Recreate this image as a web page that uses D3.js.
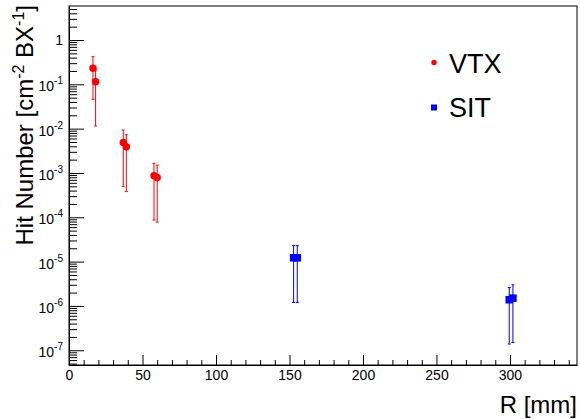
<!DOCTYPE html>
<html>
<head>
<meta charset="utf-8">
<script src="https://cdn.jsdelivr.net/npm/d3@7"></script>
<style>
  body { margin: 0; background: #fff; }
  svg text { font-family: "Liberation Sans", Arial, Helvetica, sans-serif; }
</style>
</head>
<body>
<div id="chart"></div>
<script>
// hit number vs radius, VTX and SIT layers
const vtxR    = [16.3, 18.1, 36.9, 39.0, 57.8, 60.0];
const vtxVal  = [0.23, 0.115, 0.0049, 0.0039, 8.7e-4, 7.9e-4];
const vtxHigh = [0.42, 0.21, 0.0093, 0.0073, 1.65e-3, 1.5e-3];
const vtxLow  = [0.046, 0.0115, 4.9e-4, 3.8e-4, 8.7e-5, 7.8e-5];

const sitR    = [152.8, 155.3, 299.5, 302.0];
const sitVal  = [1.22e-5, 1.22e-5, 1.38e-6, 1.5e-6];
const sitHigh = [2.3e-5, 2.3e-5, 2.6e-6, 3.0e-6];
const sitLow  = [1.2e-6, 1.2e-6, 1.38e-7, 1.5e-7];

const xMajor = [0, 50, 100, 150, 200, 250, 300];
const yMajorExp = [-7, -6, -5, -4, -3, -2, -1, 0];
const legendNames = ["VTX", "SIT"];

const WIDTH = 580, HEIGHT = 419;
const MARGIN = { LEFT: 69, RIGHT: 3, TOP: 6, BOTTOM: 54 };

const svg = d3.select("#chart").append("svg")
  .attr("width", WIDTH)
  .attr("height", HEIGHT);

const x = d3.scaleLinear()
  .domain([0, 345.6])
  .range([MARGIN.LEFT, WIDTH - MARGIN.RIGHT]);
const y = d3.scaleLog()
  .domain([4.65e-8, 5.85])
  .range([HEIGHT - MARGIN.BOTTOM, MARGIN.TOP]);

// frame
svg.append("rect")
  .attr("x", x.range()[0]).attr("y", y.range()[1])
  .attr("width", x.range()[1] - x.range()[0])
  .attr("height", y.range()[0] - y.range()[1])
  .attr("fill", "none").attr("stroke", "#000").attr("stroke-width", 1);

// x axis: minor then major ticks, pointing inwards
const xMinor = d3.range(0, 345, 10).filter(d => d % 50 !== 0);
svg.append("g")
  .attr("transform", `translate(0, ${y.range()[0]})`)
  .call(d3.axisBottom(x).tickValues(xMinor).tickSize(-5).tickFormat(""))
  .call(g => g.select(".domain").remove());
const xAxis = svg.append("g")
  .attr("transform", `translate(0, ${y.range()[0]})`)
  .call(d3.axisBottom(x).tickValues(xMajor).tickSize(-10).tickPadding(5).tickSizeOuter(0));
xAxis.selectAll("text").attr("font-size", 14).attr("fill", "#000")
  .style("font-family", '"Liberation Sans", Arial, sans-serif');

// y axis: log minor ticks 2..9 per decade
const yMinor = [];
for (let e = -8; e <= 0; e++) {
  for (let m = 2; m <= 9; m++) {
    const v = m * Math.pow(10, e);
    if (v >= y.domain()[0] && v <= y.domain()[1]) yMinor.push(v);
  }
}
const yMajor = yMajorExp.map(e => Math.pow(10, e));
svg.append("g")
  .attr("transform", `translate(${x.range()[0]}, 0)`)
  .call(d3.axisLeft(y).tickValues(yMinor).tickSize(-8).tickFormat(""))
  .call(g => g.select(".domain").remove());
svg.append("g")
  .attr("transform", `translate(${x.range()[0]}, 0)`)
  .call(d3.axisLeft(y).tickValues(yMajor).tickSize(-15).tickSizeOuter(0).tickFormat(""));

// y tick labels as 10^k
const yLab = svg.append("g").attr("font-size", 14).attr("text-anchor", "end");
yMajorExp.forEach(e => {
  const t = yLab.append("text")
    .attr("x", 63)
    .attr("y", y(Math.pow(10, e)) + (e === 0 ? 5 : 7));
  if (e === 0) {
    t.text("1");
  } else {
    t.append("tspan").text("10");
    t.append("tspan").attr("font-size", 10).attr("dy", -7).text(String(e).replace("\u2212", "-"));
  }
});

// error bars
function errorBars(rs, lo, hi, color) {
  const g = svg.append("g").attr("stroke", color).attr("stroke-width", 1).attr("fill", "none");
  rs.forEach((r, i) => {
    const cx = x(r);
    g.append("line").attr("x1", cx).attr("x2", cx).attr("y1", y(lo[i])).attr("y2", y(hi[i]));
    g.append("line").attr("x1", cx - 1.5).attr("x2", cx + 1.5).attr("y1", y(lo[i])).attr("y2", y(lo[i]));
    g.append("line").attr("x1", cx - 1.5).attr("x2", cx + 1.5).attr("y1", y(hi[i])).attr("y2", y(hi[i]));
  });
}
errorBars(vtxR, vtxLow, vtxHigh, "#ff0000");
errorBars(sitR, sitLow, sitHigh, "#0000ff");

// markers
svg.append("g").selectAll("circle")
  .data(vtxR.map((r, i) => ({ r, v: vtxVal[i] })))
  .enter().append("circle")
  .attr("cx", d => x(d.r))
  .attr("cy", d => y(d.v))
  .attr("r", 3.7)
  .attr("fill", "#ff0000");

const sq = 7.5;
svg.append("g").selectAll("rect")
  .data(sitR.map((r, i) => ({ r, v: sitVal[i] })))
  .enter().append("rect")
  .attr("x", d => x(d.r) - sq / 2)
  .attr("y", d => y(d.v) - sq / 2)
  .attr("width", sq).attr("height", sq)
  .attr("fill", "#0000ff");

// legend
const leg = svg.append("g");
leg.append("circle").attr("cx", 434).attr("cy", 62.5).attr("r", 2.7).attr("fill", "#ff0000");
leg.append("rect").attr("x", 431).attr("y", 104.5).attr("width", 6).attr("height", 6).attr("fill", "#0000ff");
leg.selectAll("text").data(legendNames).enter().append("text")
  .attr("x", 449)
  .attr("y", (d, i) => 72.7 + i * 44.6)
  .attr("font-size", 27)
  .text(d => d);

// axis titles
svg.append("text")
  .attr("x", WIDTH - 3)
  .attr("y", 412.5)
  .attr("text-anchor", "end")
  .attr("font-size", 24)
  .text("R [mm]");

const yt = svg.append("text")
  .attr("transform", "translate(33, 5) rotate(-90)")
  .attr("text-anchor", "end")
  .attr("font-size", 24);
yt.append("tspan").text("Hit Number [cm");
yt.append("tspan").attr("font-size", 16).attr("dy", -9).text("-2");
yt.append("tspan").attr("dy", 9).text(" BX");
yt.append("tspan").attr("font-size", 16).attr("dy", -9).text("-1");
yt.append("tspan").attr("dy", 9).text("]");
</script>
</body>
</html>
